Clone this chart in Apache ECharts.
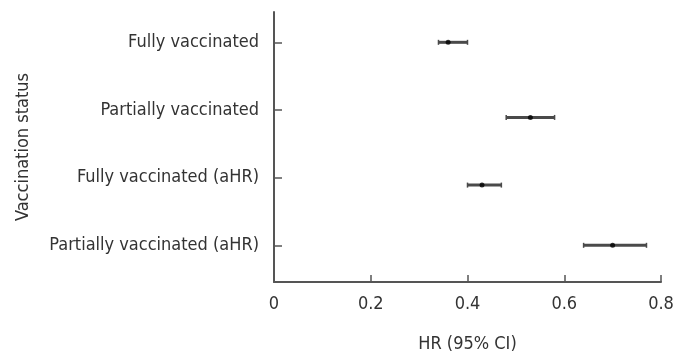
<!DOCTYPE html>
<html>
<head>
<meta charset="utf-8">
<script src="https://cdn.jsdelivr.net/npm/echarts@6/dist/echarts.min.js"></script>
<style>html,body{margin:0;padding:0;background:#fff;}#c{width:677px;height:357px;}</style>
</head>
<body>
<div id="c"></div>
<script>
// Data
const categories = ['Fully vaccinated', 'Partially vaccinated', 'Fully vaccinated (aHR)', 'Partially vaccinated (aHR)'];
const tickPos = [4, 3, 2, 1];            // y-axis tick row for each category
const rowPos = [4.0, 2.89, 1.89, 1.0];   // vertical row where each estimate is drawn
const hr = [0.36, 0.53, 0.43, 0.70];
const ciLow = [0.34, 0.48, 0.40, 0.64];
const ciHigh = [0.40, 0.58, 0.47, 0.77];
const xTickLabels = ['0', '0.2', '0.4', '0.6', '0.8'];

const FONT = '"DejaVu Sans Condensed", "Liberation Sans Narrow", sans-serif';
const FS = 18;
const TXT = '#333';
const AX = '#555';

const barData = hr.map((v, i) => [v, ciLow[i], ciHigh[i], rowPos[i]]);
const pointData = hr.map((v, i) => [v, rowPos[i]]);

const chart = echarts.init(document.getElementById('c'), null, {renderer: 'canvas'});
chart.setOption({
  animation: false,
  backgroundColor: '#fff',
  grid: {left: 274, right: 16, top: 12, bottom: 75, containLabel: false, outerBoundsMode: 'none'},
  xAxis: {
    type: 'value', min: 0, max: 0.8, interval: 0.2,
    name: 'HR (95% CI)', nameLocation: 'middle', nameGap: 53,
    nameTextStyle: {fontFamily: FONT, fontSize: FS, color: TXT},
    axisLine: {show: true, lineStyle: {color: AX, width: 2}},
    axisTick: {show: true, inside: true, length: 7, lineStyle: {color: AX, width: 1.5}},
    axisLabel: {fontFamily: FONT, fontSize: FS, color: TXT, margin: 13,
      formatter: (v, i) => xTickLabels[i]},
    splitLine: {show: false}
  },
  yAxis: {
    type: 'value', min: 0.458, max: 4.448,
    name: 'Vaccination status', nameLocation: 'middle', nameGap: 242, nameRotate: 90,
    nameTextStyle: {fontFamily: FONT, fontSize: FS, color: TXT},
    axisLine: {show: true, lineStyle: {color: AX, width: 2}},
    axisTick: {show: true, inside: true, length: 8, customValues: tickPos, lineStyle: {color: AX, width: 1.5}},
    axisLabel: {fontFamily: FONT, fontSize: FS, color: TXT, margin: 15, customValues: tickPos,
      formatter: v => categories[tickPos.indexOf(Math.round(v))]},
    splitLine: {show: false}
  },
  series: [
    {
      type: 'custom',
      data: barData,
      encode: {x: [1, 2], y: 3},
      renderItem: function (params, api) {
        const lo = api.coord([api.value(1), api.value(3)]);
        const hi = api.coord([api.value(2), api.value(3)]);
        const cap = 2.5;
        const st = {stroke: '#4a4a4a', lineWidth: 3};
        const cs = {stroke: '#4a4a4a', lineWidth: 1.5};
        return {type: 'group', children: [
          {type: 'line', shape: {x1: lo[0], y1: lo[1], x2: hi[0], y2: hi[1]}, style: st},
          {type: 'line', shape: {x1: lo[0], y1: lo[1] - cap, x2: lo[0], y2: lo[1] + cap}, style: cs},
          {type: 'line', shape: {x1: hi[0], y1: hi[1] - cap, x2: hi[0], y2: hi[1] + cap}, style: cs}
        ]};
      },
      z: 2
    },
    {
      type: 'scatter',
      data: pointData,
      symbol: 'circle',
      symbolSize: 5,
      itemStyle: {color: '#000'},
      z: 3
    }
  ]
});
</script>
</body>
</html>
